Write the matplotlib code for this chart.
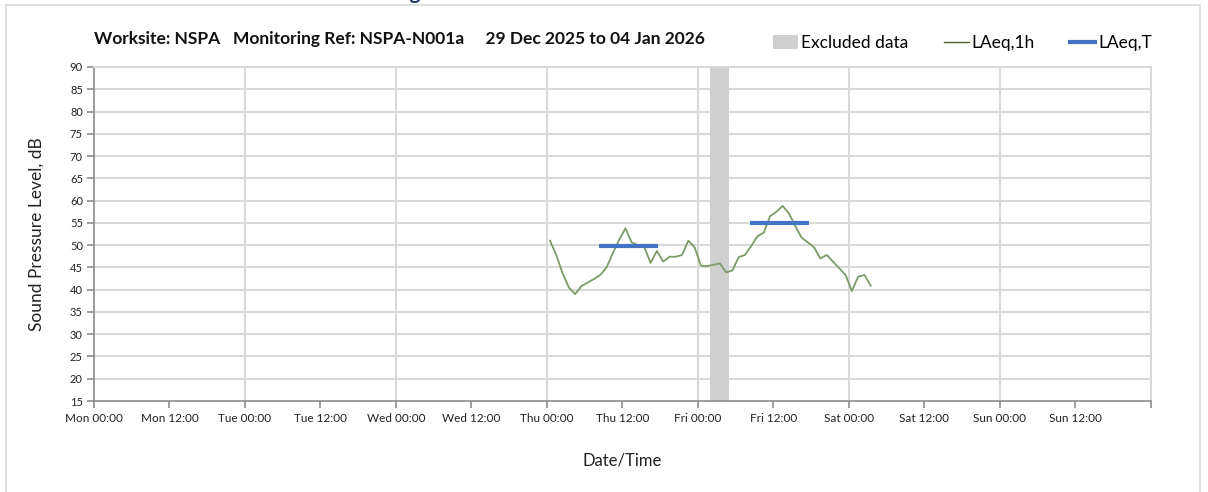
import matplotlib
matplotlib.use("Agg")
import matplotlib.pyplot as plt
import matplotlib.dates as mdates
from matplotlib.lines import Line2D
from matplotlib.patches import Patch, Rectangle
import pandas as pd

plt.rcParams["font.family"] = ["Lato", "DejaVu Sans"]

# data
title_text = "Worksite: NSPA   Monitoring Ref: NSPA-N001a     29 Dec 2025 to 04 Jan 2026"
period_start = "2025-12-29 00:00"
period_end = "2026-01-05 00:00"

laeq_1h_first = "2026-01-01 00:30"  # hourly values, centred on the half hour
laeq_1h = [
    51.0, 47.8, 43.7, 40.5, 39.0, 40.8, 41.6, 42.4, 43.3, 45.0,
    48.2, 51.2, 53.8, 50.6, 50.0, 49.6, 46.0, 48.7, 46.3, 47.4,
    47.4, 47.8, 51.0, 49.5, 45.4, 45.3, 45.6, 45.9, 43.9, 44.3,
    47.3, 47.8, 49.8, 52.0, 52.8, 56.5, 57.5, 58.8, 57.1, 54.3,
    51.7, 50.6, 49.5, 47.0, 47.8, 46.3, 44.8, 43.3, 39.7, 42.9,
    43.3, 40.9,
]

laeq_t_start = ["2026-01-01 08:15", "2026-01-02 08:20"]
laeq_t_end = ["2026-01-01 17:40", "2026-01-02 17:40"]
laeq_t = [49.8, 55.0]

excluded_start = ["2026-01-02 02:00"]
excluded_end = ["2026-01-02 05:00"]

y_ticks = list(range(15, 95, 5))

# figure
fig = plt.figure(figsize=(12.08, 4.92), dpi=100)
ax = fig.add_axes([94 / 1208, 1 - 401 / 492, (1150.6 - 94) / 1208, (401 - 67) / 492])

grid_col = "#d9d9d9"
axis_col = "#8c8c8c"

times = pd.date_range(laeq_1h_first, periods=len(laeq_1h), freq="h")

for s, e in zip(excluded_start, excluded_end):
    ax.axvspan(pd.Timestamp(s), pd.Timestamp(e), color="#d0d0d0", lw=0, zorder=1)

ax.plot(times, laeq_1h, color="#7d9a69", lw=1.3, zorder=3)
for s, e, v in zip(laeq_t_start, laeq_t_end, laeq_t):
    ax.plot([pd.Timestamp(s), pd.Timestamp(e)], [v, v], color="#4472c4", lw=3,
            solid_capstyle="butt", zorder=4)

x_end = mdates.date2num(pd.Timestamp(period_end))


def tick_fmt(x, pos):
    # no label on the closing tick at the right edge
    if abs(x - x_end) < 1e-6:
        return ""
    return mdates.num2date(x).strftime("%a %H:%M")


ax.set_xlim(pd.Timestamp(period_start), pd.Timestamp(period_end))
ax.set_ylim(15, 90)
ax.set_yticks(y_ticks)
ax.xaxis.set_major_locator(mdates.HourLocator(byhour=[0, 12]))
ax.xaxis.set_major_formatter(plt.FuncFormatter(tick_fmt))

# gridlines: horizontal every 5 dB, vertical at midnight only
for y in y_ticks[1:]:
    ax.axhline(y, color=grid_col, lw=1.5, zorder=0)
for d in pd.date_range(period_start, period_end, freq="D")[1:]:
    ax.axvline(d, color=grid_col, lw=1.5, zorder=0)

for side in ["top", "right"]:
    ax.spines[side].set_color(grid_col)
    ax.spines[side].set_linewidth(1.5)
for side in ["left", "bottom"]:
    ax.spines[side].set_color(axis_col)
    ax.spines[side].set_linewidth(1.2)
ax.spines["bottom"].set_zorder(5)

ax.tick_params(axis="both", colors=axis_col, length=5, width=1.2, labelcolor="#222222")
ax.tick_params(axis="y", labelsize=8, pad=3)
ax.tick_params(axis="x", labelsize=8.5, pad=4)

ax.set_ylabel("Sound Pressure Level, dB", fontsize=12.5, color="#222222", labelpad=18)
ax.set_xlabel("Date/Time", fontsize=12, color="#222222", labelpad=20)

# title and legend above the plot
fig.text(94 / 1208, 1 - 39 / 492, title_text, fontsize=12.5, fontweight="bold",
         color="#111111", va="center", ha="left")

handles = [
    Patch(facecolor="#d0d0d0", edgecolor="none"),
    Line2D([], [], color="#4f6228", lw=1),
    Line2D([], [], color="#4472c4", lw=3),
]
fig.legend(handles, ["Excluded data", "LAeq,1h", "LAeq,T"], loc="center right",
           bbox_to_anchor=(1164 / 1208, 1 - 43 / 492), ncol=3, frameon=False,
           fontsize=12.5, handlelength=1.45, handletextpad=0.15, columnspacing=2.05,
           handleheight=0.9, borderpad=0.2)

# cut-off heading at the very top of the page
fig.text(421 / 1208, 1 + 1 / 492, "Monitoring", fontsize=15, fontweight="bold",
         color="#1f3864", ha="right", va="baseline")

# page frame
fig.patches.append(Rectangle((6 / 1208, -0.1), (1200 - 6) / 1208, 1.1 - 5 / 492,
                             transform=fig.transFigure, fill=False,
                             edgecolor="#d9d9d9", lw=1.2))

fig.savefig("out.png", dpi=100)
